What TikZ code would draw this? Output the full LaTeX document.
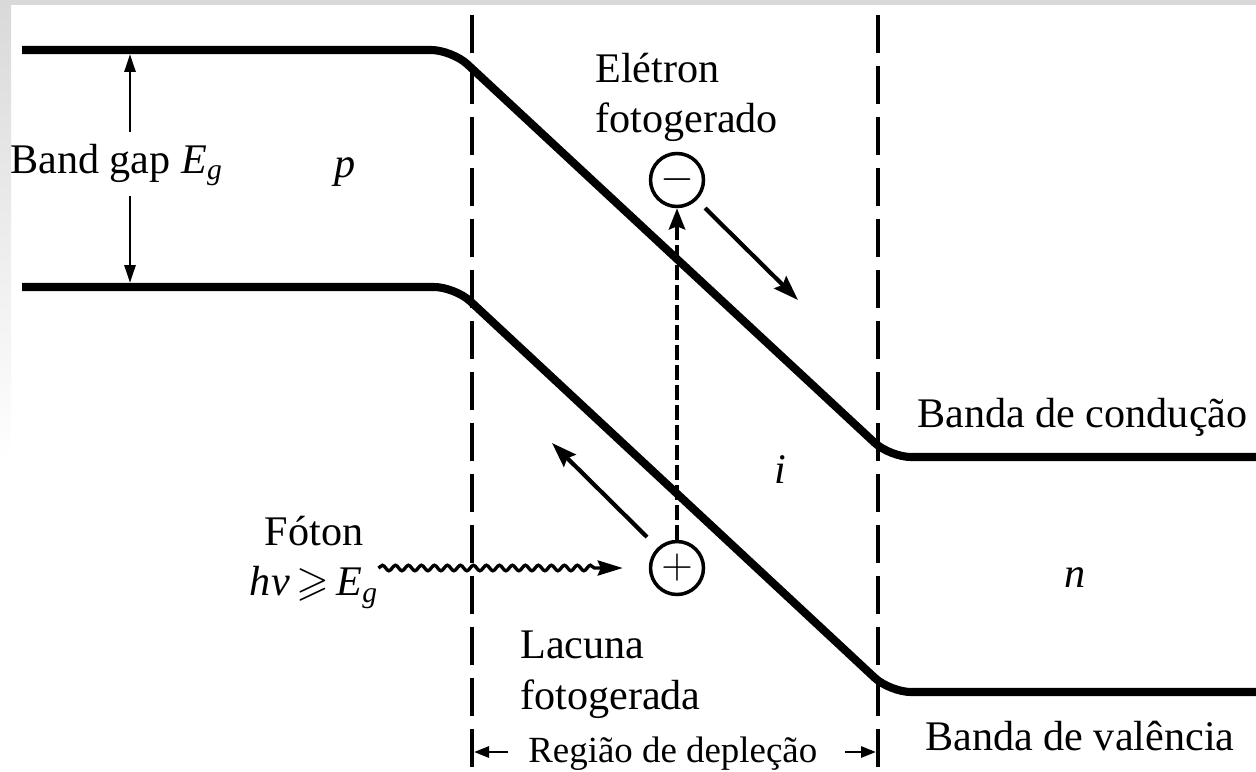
\documentclass[tikz,border=0pt]{standalone}
\usepackage{amsmath,amssymb}
\usepackage{fontspec}
\setmainfont{Liberation Serif}
\usepackage{xcolor}
\usepackage{tikz}
\usetikzlibrary{arrows.meta, positioning, calc, decorations.pathmorphing}
\definecolor{pinblack}{RGB}{0,0,0}
\definecolor{pinframe}{RGB}{217,217,217}

\begin{document}
\begin{tikzpicture}[
    x=0.02cm, y=-0.02cm,
    band/.style={line width=4.6pt, pinblack, rounded corners=0.42cm},
    sepline/.style={line width=1.9pt, pinblack, dash pattern=on 0.76cm off 0.26cm},
    carrier/.style={circle, draw=pinblack, line width=2pt, minimum size=1.06cm, inner sep=0pt, font=\fontsize{28}{30}\selectfont},
    lbl/.style={inner sep=0pt, font=\fontsize{24}{28.5}\selectfont},
    smalllbl/.style={inner sep=0pt, font=\fontsize{21}{25}\selectfont},
    drift/.style={-{Stealth[length=0.5cm, width=0.34cm, inset=0.07cm]}, line width=2.4pt, pinblack},
    excite/.style={-{Stealth[length=0.42cm, width=0.32cm, inset=0.06cm]}, line width=2.8pt, pinblack, dash pattern=on 0.3cm off 0.1cm},
    gaparrow/.style={-{Triangle[length=0.36cm, width=0.22cm]}, line width=1.6pt, pinblack},
    deparrow/.style={-{Triangle[length=0.3cm, width=0.22cm]}, line width=1.6pt, pinblack},
    photon/.style={-{Stealth[length=0.5cm, width=0.3cm, inset=0.06cm]}, line width=1.9pt, pinblack, decorate,
        decoration={snake, amplitude=0.055cm, segment length=0.26cm, post length=0.5cm}}
]
\useasboundingbox (0,0) rectangle (1256,771);

% Frame of the slide
\fill[pinframe] (0,0) rectangle (1256,5);
\shade[top color=pinframe, bottom color=white] (0,0) rectangle (11,460);

% Bands
\draw[band] (22,50) -- (452,50) -- (890,457) -- (1256,457);
\draw[band] (22,287) -- (455,287) -- (890,692) -- (1256,692);

% Depletion region limits
\coordinate (sepL-top) at (472,15);
\coordinate (sepL-bot) at (472,771);
\coordinate (sepR-top) at (878,15);
\coordinate (sepR-bot) at (878,771);
\draw[sepline] (sepL-top) -- (sepL-bot);
\draw[sepline] (sepR-top) -- (sepR-bot);

% Band gap
\node[lbl, anchor=base west] (gaplbl) at (10,173) {Band gap \textit{E}\textsubscript{\textit{g}}};
\coordinate (gap-up) at (130,132);
\coordinate (gap-dn) at (130,196);
\coordinate (gap-cb) at (130,54);
\coordinate (gap-vb) at (130,283);
\draw[gaparrow] (gap-up) -- (gap-cb);
\draw[gaparrow] (gap-dn) -- (gap-vb);

% Regions
\node[lbl, anchor=base] (ptype) at (345,177) {\textit{p}};
\node[lbl, anchor=base] (itype) at (780,483) {\textit{i}};
\node[lbl, anchor=base] (ntype) at (1075,587) {\textit{n}};

% Carriers
\node[carrier] (elec) at (677,180) {$-$};
\node[carrier] (hole) at (677,568) {$+$};
\node[lbl, align=left, anchor=north west] (eleclbl) at (595,53) {Elétron\\fotogerado};
\node[lbl, align=left, anchor=north west] (holelbl) at (520,631) {Lacuna\\fotogerada};

\draw[excite] (hole.north) -- (elec.south);

\coordinate (edrift-a) at (705,208);
\coordinate (edrift-b) at (798,300);
\coordinate (hdrift-a) at (647,537);
\coordinate (hdrift-b) at (552,443);
\draw[drift] (edrift-a) -- (edrift-b);
\draw[drift] (hdrift-a) -- (hdrift-b);

% Photon
\node[lbl, align=center, anchor=north] (phot) at (314,516) {Fóton\\\textit{hν}\,$\geqslant$\,\textit{E}\textsubscript{\textit{g}}};
\draw[photon] (phot.east |- hole.west) -- ([xshift=-0.52cm]hole.west);

% Band names
\node[lbl, anchor=base west] (cblbl) at (917,427) {Banda de condução};
\node[lbl, anchor=base west] (vblbl) at (925,750) {Banda de valência};

% Depletion region
\node[smalllbl, anchor=base west] (deplbl) at (528,762) {Região de depleção};
\coordinate (dep-l-tail) at (508,752);
\coordinate (dep-l-tip) at (474,752);
\coordinate (dep-r-tail) at (845,752);
\coordinate (dep-r-tip) at (876,752);
\draw[deparrow] (dep-l-tail) -- (dep-l-tip);
\draw[deparrow] (dep-r-tail) -- (dep-r-tip);

\end{tikzpicture}
\end{document}
